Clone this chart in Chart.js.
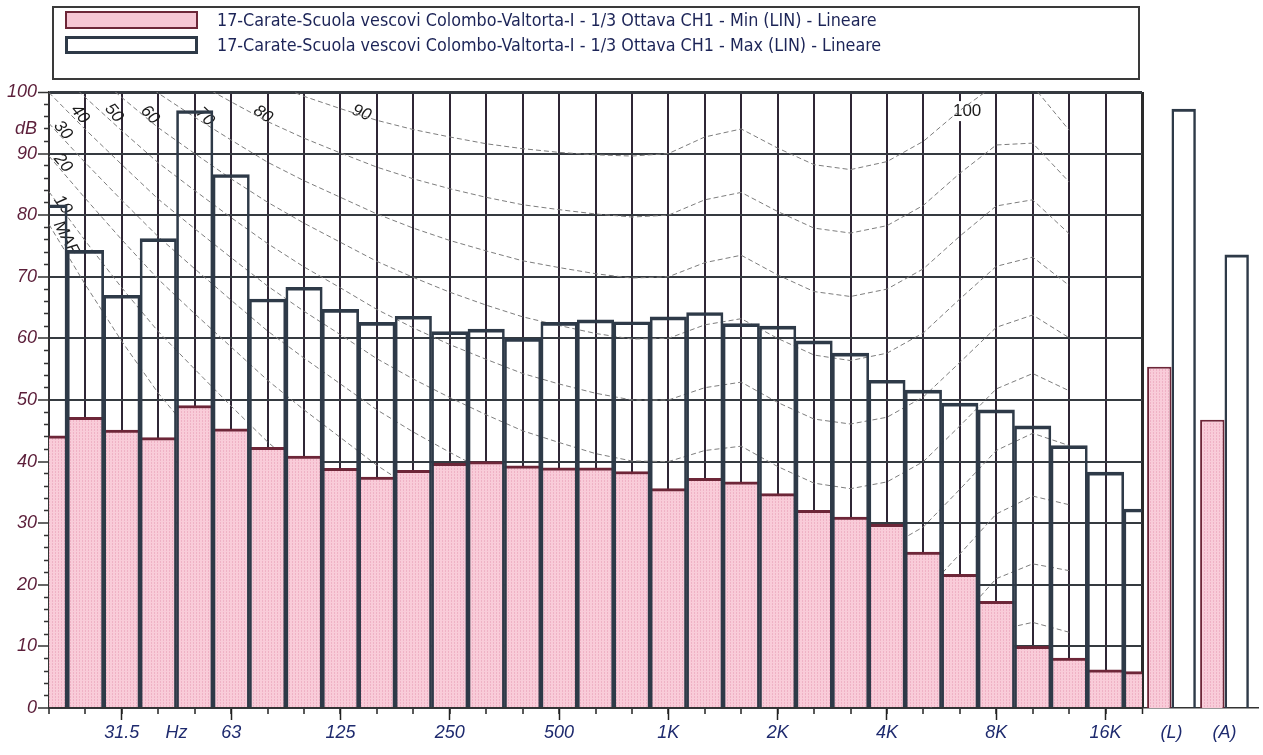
<!DOCTYPE html>
<html lang="it">
<head>
<meta charset="UTF-8">
<title>1/3 Ottava CH1 - Min / Max</title>
<script src="https://cdn.jsdelivr.net/npm/chart.js@4"></script>
<style>
  body { margin: 0; background: #fff; }
  #wrap { position: relative; width: 1263px; height: 755px; overflow: hidden; background: #fff; }
  #spettro { position: absolute; left: 0; top: 0; }
  #totali { position: absolute; left: 1140px; top: 0; }
  #legenda {
    position: absolute; left: 52px; top: 6px; width: 1088px; height: 74px;
    border: 2px solid #3a3a3a; box-sizing: border-box;
    font-family: "Liberation Sans Narrow", "DejaVu Sans Condensed", sans-serif;
    font-size: 17.8px; color: #1c2457;
  }
  .campione { position: absolute; left: 11px; width: 133px; height: 18px; box-sizing: border-box; }
  .testo { position: absolute; left: 163px; white-space: nowrap; line-height: 20px; }
</style>
</head>
<body>
<div id="wrap">
  <canvas id="spettro" width="1146" height="755"></canvas>
  <canvas id="totali" width="123" height="755"></canvas>
  <div id="legenda">
    <div class="campione" id="campMin" style="top:3px; border:2px solid #6d2638;"></div>
    <div class="testo" style="top:2px;">17-Carate-Scuola vescovi Colombo-Valtorta-I - 1/3 Ottava CH1 - Min (LIN) - Lineare</div>
    <div class="campione" style="top:28px; border:3px solid #2e3a48; background:#fff;"></div>
    <div class="testo" style="top:27px;">17-Carate-Scuola vescovi Colombo-Valtorta-I - 1/3 Ottava CH1 - Max (LIN) - Lineare</div>
  </div>
</div>
<script>
// bande di 1/3 d'ottava, 20 Hz .. 20 kHz
const bande = ['20', '25', '31.5', '40', '50', '63', '80', '100', '125', '160', '200', '250', '315', '400', '500',
  '630', '800', '1K', '1.25K', '1.6K', '2K', '2.5K', '3.15K', '4K', '5K', '6.3K', '8K', '10K', '12.5K', '16K', '20K'];
const minDb = [44.2, 47.2, 45.1, 43.9, 49.1, 45.3, 42.3, 40.9, 38.9, 37.5, 38.6, 39.7, 40.0, 39.3, 39.0,
  39.0, 38.4, 35.6, 37.3, 36.7, 34.8, 32.1, 31.0, 29.8, 25.3, 21.7, 17.3, 10.0, 8.1, 6.2, 5.9];
const maxDb = [81.7, 74.3, 67.0, 76.2, 97.0, 86.6, 66.4, 68.3, 64.7, 62.6, 63.6, 61.1, 61.5, 60.0, 62.6,
  63.0, 62.7, 63.5, 64.2, 62.4, 62.0, 59.6, 57.6, 53.2, 51.6, 49.5, 48.4, 45.8, 42.6, 38.3, 32.3];

// livelli globali
const totaliNomi = ['(L)', '(A)'];
const totaliMin = [55.4, 46.8];
const totaliMax = [97.3, 73.6];

// etichette asse x (indice banda -> testo)
const tickPos = [2, 3.5, 5, 8, 11, 14, 17, 20, 23, 26, 29];
const tickTesti = ['31.5', 'Hz', '63', '125', '250', '500', '1K', '2K', '4K', '8K', '16K'];
const yTickPos = [0, 10, 20, 30, 40, 50, 60, 70, 80, 90, 94, 100];

// curve isofoniche (20 Hz .. 12.5 kHz)
const isoMAF = [78.5, 68.7, 59.5, 51.1, 44.0, 37.5, 31.5, 26.5, 22.1, 17.9, 14.4, 11.4, 8.6, 6.2, 4.4,
  3.0, 2.2, 2.4, 3.5, 1.7, -1.3, -4.2, -6.0, -5.4, -1.5, 6.0, 12.6, 13.9, 12.3];
const iso10 = [83.8, 75.8, 68.2, 61.1, 55.0, 49.0, 43.2, 38.1, 33.5, 28.8, 24.8, 21.3, 18.1, 15.1, 13.0,
  11.2, 10.0, 10.0, 11.3, 10.4, 7.3, 4.5, 3.0, 3.8, 7.5, 14.4, 21.0, 23.4, 22.3];
const iso20 = [89.6, 82.7, 76.0, 69.6, 64.0, 58.6, 53.2, 48.4, 43.9, 39.4, 35.5, 32.0, 28.7, 25.7, 23.4,
  21.5, 20.1, 20.0, 21.5, 21.4, 18.2, 15.4, 14.3, 15.1, 18.6, 25.0, 31.5, 34.4, 33.0];
const iso30 = [94.9, 88.5, 82.4, 76.5, 71.3, 66.2, 61.2, 56.8, 52.6, 48.4, 44.8, 41.5, 38.4, 35.5, 33.4,
  31.5, 30.1, 30.0, 31.7, 32.0, 28.8, 26.0, 25.1, 26.0, 29.4, 35.5, 41.8, 44.6, 42.6];
const iso40 = [99.9, 93.9, 88.2, 82.6, 77.8, 73.1, 68.5, 64.4, 60.6, 56.7, 53.4, 50.4, 47.6, 45.0, 43.1,
  41.3, 40.1, 40.0, 41.8, 42.5, 39.2, 36.5, 35.6, 36.7, 40.0, 45.8, 51.8, 54.3, 51.5];
const iso50 = [104.7, 99.1, 93.7, 88.5, 84.0, 79.6, 75.4, 71.6, 68.2, 64.7, 61.7, 59.0, 56.6, 54.3, 52.6,
  51.1, 50.0, 50.0, 52.0, 52.9, 49.6, 46.9, 46.1, 47.2, 50.5, 56.1, 61.8, 63.8, 60.1];
const iso60 = [109.5, 104.2, 99.1, 94.2, 90.0, 85.9, 82.1, 78.7, 75.6, 72.5, 69.9, 67.5, 65.4, 63.5, 62.1,
  60.8, 59.9, 60.0, 62.2, 63.2, 60.0, 57.3, 56.4, 57.6, 60.9, 66.4, 71.7, 73.2, 68.6];
const iso70 = [114.3, 109.3, 104.4, 99.8, 95.9, 92.2, 88.6, 85.6, 82.9, 80.2, 77.9, 75.9, 74.2, 72.6, 71.5,
  70.5, 69.8, 70.0, 72.3, 73.5, 70.3, 67.6, 66.8, 68.0, 71.3, 76.6, 81.5, 82.5, 77.0];
const iso80 = [119.0, 114.2, 109.7, 105.3, 101.7, 98.4, 95.2, 92.5, 90.1, 87.8, 85.9, 84.3, 82.9, 81.7, 80.9,
  80.2, 79.7, 80.0, 82.5, 83.7, 80.6, 77.9, 77.1, 78.3, 81.6, 86.8, 91.4, 91.7, 85.4];
const iso90 = [123.7, 119.2, 114.9, 110.9, 107.6, 104.5, 101.7, 99.3, 97.3, 95.4, 93.9, 92.7, 91.6, 90.8, 90.2,
  89.8, 89.6, 90.0, 92.7, 94.0, 90.9, 88.2, 87.4, 88.7, 92.0, 97.0, 101.3, 101.0, 93.8];
const isofone = [isoMAF, iso10, iso20, iso30, iso40, iso50, iso60, iso70, iso80, iso90];

// scritte sulle curve: testo, banda, dB, rotazione
const scritteCurve = [
  { t: '40', x: 0.85, y: 96.4, r: 50 }, { t: '50', x: 1.78, y: 96.6, r: 50 },
  { t: '60', x: 2.77, y: 96.3, r: 45 }, { t: '70', x: 4.28, y: 96.0, r: 45 },
  { t: '80', x: 5.87, y: 96.4, r: 35 }, { t: '90', x: 8.58, y: 96.6, r: 22 },
  { t: '30', x: 0.38, y: 93.8, r: 50 }, { t: '20', x: 0.38, y: 88.5, r: 50 },
  { t: '10', x: 0.38, y: 81.7, r: 55 }, { t: 'MAF', x: 0.47, y: 76.3, r: 62 },
  { t: '100', x: 25.2, y: 96.9, r: 0, dritto: true }
];

const fontAssi = { family: '"Liberation Sans", Arial, sans-serif', size: 18, style: 'italic' };
const trasparente = 'rgba(0,0,0,0)';

function rosaRetinato() {
  const c = document.createElement('canvas');
  c.width = 3; c.height = 3;
  const g = c.getContext('2d');
  g.fillStyle = '#f9ccd9';
  g.fillRect(0, 0, 3, 3);
  g.fillStyle = '#efb2c5';
  g.fillRect(1, 0, 1, 2);
  return g.createPattern(c, 'repeat');
}
const rosa = rosaRetinato();
document.getElementById('campMin').style.background = '#f7c6d4';

const scrittePlugin = {
  id: 'scritteCurve',
  beforeDatasetsDraw(chart) {
    const { ctx, scales } = chart;
    scritteCurve.forEach(s => {
      const px = scales.x.getPixelForValue(s.x);
      const py = scales.y.getPixelForValue(s.y);
      ctx.save();
      ctx.translate(px, py);
      ctx.rotate(s.r * Math.PI / 180);
      ctx.font = (s.dritto ? '' : 'italic ') + '17px "Liberation Sans", Arial, sans-serif';
      ctx.textAlign = 'center';
      ctx.textBaseline = 'middle';
      if (s.dritto) {
        const w = ctx.measureText(s.t).width;
        ctx.fillStyle = '#fff';
        ctx.fillRect(-w / 2 - 3, -10, w + 6, 20);
      }
      ctx.fillStyle = '#1a1a1a';
      ctx.fillText(s.t, 0, 0);
      ctx.restore();
    });
  }
};

const datasetCurve = isofone.map(serie => ({
  type: 'line',
  data: serie.map((v, i) => ({ x: i, y: v })),
  borderColor: '#7d7d7d',
  borderWidth: 1,
  borderDash: [5, 3],
  pointRadius: 0,
  tension: 0,
  order: 3,
  xAxisID: 'x',
  yAxisID: 'y'
}));

new Chart(document.getElementById('spettro'), {
  type: 'bar',
  data: {
    datasets: [
      {
        label: 'Max (LIN)',
        data: maxDb.map((v, i) => ({ x: i, y: v })),
        backgroundColor: trasparente,
        borderColor: '#2e3a48',
        borderWidth: { top: 3, left: 2, right: 2, bottom: 0 },
        grouped: false,
        barPercentage: 1,
        categoryPercentage: 1,
        clip: 0,
        order: 1,
        xAxisID: 'x',
        yAxisID: 'y'
      },
      {
        label: 'Min (LIN)',
        data: minDb.map((v, i) => ({ x: i, y: v })),
        backgroundColor: rosa,
        borderColor: '#6d2638',
        borderWidth: { top: 3, left: 0, right: 0, bottom: 0 },
        grouped: false,
        barPercentage: 1,
        categoryPercentage: 1,
        clip: 0,
        order: 2,
        xAxisID: 'x',
        yAxisID: 'y'
      },
      ...datasetCurve
    ]
  },
  options: {
    responsive: false,
    animation: false,
    layout: { padding: { top: 92, right: 4, left: 0, bottom: 0 } },
    plugins: { legend: { display: false }, tooltip: { enabled: false } },
    scales: {
      x: {
        type: 'linear', min: 0, max: 30, offset: false, position: 'bottom', weight: 1,
        afterBuildTicks: s => { s.ticks = tickPos.map(v => ({ value: v })); },
        afterFit: s => { s.height = 47; },
        ticks: {
          autoSkip: false, maxRotation: 0, padding: 2, color: '#1e2a6e', font: fontAssi,
          callback: v => tickTesti[tickPos.indexOf(v)]
        },
        grid: {
          offset: false, drawOnChartArea: false, tickLength: 12, tickWidth: 1.5,
          tickColor: c => (c.tick && c.tick.value === 3.5) ? trasparente : '#222'
        },
        border: { display: true, color: '#333', width: 1.5 }
      },
      xMin: {
        type: 'linear', min: 0, max: 30, offset: false, position: 'bottom', weight: 0,
        afterBuildTicks: s => { s.ticks = bande.map((b, i) => ({ value: i })); },
        afterFit: s => { s.height = 0; },
        ticks: { display: false },
        grid: {
          offset: false, drawOnChartArea: true, tickLength: 6, tickWidth: 1.5, tickColor: '#222',
          color: c => c.tick && c.tick.value === 30 ? '#2a2a2a' : '#2f2635',
          lineWidth: c => c.tick && c.tick.value === 30 ? 3 : 2
        },
        border: { display: false }
      },
      y: {
        min: 0, max: 100, position: 'left', weight: 1,
        afterBuildTicks: s => { s.ticks = yTickPos.map(v => ({ value: v })); },
        afterFit: s => { s.width = 49; },
        ticks: {
          autoSkip: false, padding: 1, color: '#5c1f3a', font: fontAssi,
          callback: v => v === 94 ? 'dB' : v
        },
        grid: {
          tickLength: 11, tickWidth: 1.5,
          color: c => c.tick && c.tick.value === 94 ? trasparente : '#353a40',
          lineWidth: c => c.tick && c.tick.value === 100 ? 3 : 2,
          tickColor: c => c.tick && c.tick.value === 94 ? trasparente : '#333'
        },
        border: { display: true, color: '#333', width: 1.5 }
      },
      yMin: {
        min: 0, max: 100, position: 'left', weight: 0,
        afterBuildTicks: s => {
          const t = [];
          for (let v = 2; v < 100; v += 2) if (v % 10 !== 0) t.push({ value: v });
          s.ticks = t;
        },
        afterFit: s => { s.width = 0; },
        ticks: { display: false },
        grid: { drawOnChartArea: false, tickLength: 5, tickWidth: 1.5, tickColor: '#333' },
        border: { display: false }
      }
    }
  },
  plugins: [scrittePlugin]
});

new Chart(document.getElementById('totali'), {
  type: 'bar',
  data: {
    datasets: [
      {
        label: 'Min',
        data: totaliMin.map((v, i) => ({ x: i, y: v })),
        backgroundColor: rosa,
        borderColor: '#6d2638',
        borderWidth: 2,
        barPercentage: 1,
        categoryPercentage: 0.92
      },
      {
        label: 'Max',
        data: totaliMax.map((v, i) => ({ x: i, y: v })),
        backgroundColor: trasparente,
        borderColor: '#2e3a48',
        borderWidth: { top: 3, left: 2.5, right: 2.5, bottom: 0 },
        barPercentage: 1,
        categoryPercentage: 0.92
      }
    ]
  },
  options: {
    responsive: false,
    animation: false,
    layout: { padding: { top: 92, right: 5, left: 0, bottom: 0 } },
    plugins: { legend: { display: false }, tooltip: { enabled: false } },
    scales: {
      x: {
        type: 'linear', min: -0.594, max: 1.632, offset: false,
        afterBuildTicks: s => { s.ticks = totaliNomi.map((n, i) => ({ value: i })); },
        afterFit: s => { s.height = 47; },
        ticks: {
          autoSkip: false, maxRotation: 0, padding: 2, color: '#1e2a6e', font: fontAssi,
          callback: v => totaliNomi[v]
        },
        grid: { offset: false, drawOnChartArea: false, tickLength: 12, tickColor: trasparente },
        border: { display: true, color: '#333', width: 1.5 }
      },
      y: { display: false, min: 0, max: 100 }
    }
  }
});
</script>
</body>
</html>
